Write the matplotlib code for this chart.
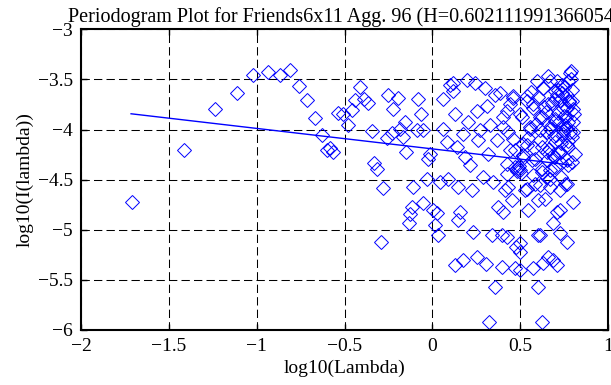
import matplotlib
matplotlib.use("Agg")
import matplotlib.pyplot as plt
import numpy as np

# periodogram points: log10(lambda), log10(I(lambda))
log_lambda = [
    -1.711, -1.414, -1.237, -1.110, -1.019, -0.937, -0.867, -0.810, -0.759, -0.715,
    -0.668, -0.630, -0.602, -0.564, -0.580, -0.536, -0.507, -0.479, -0.460, -0.441,
    -0.412, -0.388, -0.365, -0.346, -0.332, -0.317, -0.283, -0.294, -0.251, -0.222,
    -0.194, -0.260, -0.232, -0.184, -0.156, -0.166, -0.150, -0.128, -0.131, -0.109,
    -0.080, -0.067, -0.089, -0.118, -0.052, -0.052, -0.033, -0.023, -0.014, 0.005,
    0.024, 0.034, 0.015, 0.043, 0.062, 0.062, 0.081, 0.090, 0.100, 0.119,
    0.119, 0.128, 0.138, 0.157, 0.147, 0.147, 0.176, 0.186, 0.195, 0.204,
    0.214, 0.224, 0.233, 0.243, 0.252, 0.261, 0.271, 0.290, 0.299, 0.309,
    0.318, 0.328, 0.337, 0.347, 0.356, 0.366, 0.375, 0.384, 0.394, 0.404,
    0.413, 0.423, 0.432, 0.442, 0.451, 0.461, 0.470, 0.480, 0.485, 0.499,
    0.508, 0.518, 0.527, 0.537, 0.546, 0.555, 0.565, 0.574, 0.584, 0.593,
    0.603, 0.612, 0.622, 0.631, 0.641, 0.650, 0.660, 0.669, 0.679, 0.688,
    0.698, 0.707, 0.717, 0.726, 0.736, 0.745, 0.755, 0.764, 0.774, 0.783,
    0.793, 0.798, 0.793, 0.802, 0.423, 0.128, 0.176, 0.252, 0.305, 0.356,
    0.394, 0.470, 0.479, 0.499, 0.499, 0.574, 0.612, 0.603, 0.631, 0.660,
    0.688, 0.707, 0.726, 0.764, 0.707, 0.324, 0.627, 0.404, 0.603, 0.669,
    0.726, 0.789, 0.774, 0.669, 0.631, 0.717, 0.764, 0.698, 0.793, 0.660,
    0.745, 0.802, 0.461, 0.537, 0.574, 0.423, 0.499, 0.622, 0.698, 0.774,
    0.404, 0.555, 0.669, 0.745, 0.793, 0.461, 0.612, 0.698, 0.537, 0.764,
    0.442, 0.650, 0.726, 0.812, 0.518, 0.584, 0.764, 0.499, 0.505, 0.492,
    0.470, 0.622, 0.698, 0.423, 0.574, 0.669, 0.764, 0.432, 0.537, 0.612,
    0.700, 0.715, 0.740, 0.755, 0.780, 0.690, 0.730, 0.760, 0.785, 0.650,
    0.560, 0.590, 0.635, 0.655, 0.675, 0.705, 0.725, 0.750, 0.770, 0.790,
    0.545, 0.580, 0.615, 0.645, 0.685, 0.710, 0.735, 0.760, 0.780, 0.800,
    0.515, 0.600, 0.665, 0.720, 0.775, 0.735, 0.750, 0.805, 0.625, 0.690,
]
log_power = [
    -4.72, -4.20, -3.80, -3.64, -3.46, -3.43, -3.46, -3.41, -3.57, -3.71,
    -3.88, -4.05, -4.20, -4.22, -4.18, -3.84, -3.85, -3.95, -3.81, -3.71,
    -3.58, -3.70, -3.74, -4.01, -4.33, -4.39, -4.58, -5.12, -3.66, -3.80,
    -3.69, -4.08, -4.03, -3.99, -3.92, -4.07, -4.22, -4.84, -4.93, -4.57,
    -3.70, -3.85, -4.00, -4.77, -4.00, -4.73, -4.49, -4.29, -4.24, -4.80,
    -4.83, -5.05, -4.95, -4.52, -3.70, -3.99, -4.12, -4.49, -3.56, -3.54,
    -3.62, -3.85, -4.17, -4.82, -4.90, -4.57, -4.04, -4.27, -3.51, -3.92,
    -4.35, -4.60, -5.02, -3.54, -3.82, -4.10, -4.00, -4.47, -3.59, -3.77,
    -4.24, -3.95, -5.05, -4.52, -3.66, -4.10, -4.77, -3.64, -5.05, -3.87,
    -4.60, -4.34, -4.02, -3.75, -4.70, -3.67, -4.20, -4.41, -4.38, -5.13,
    -3.87, -4.14, -4.60, -3.67, -4.80, -3.99, -4.30, -3.75, -4.54, -3.52,
    -5.05, -3.87, -4.17, -3.59, -4.69, -4.02, -3.47, -4.40, -3.74, -4.93,
    -3.91, -3.52, -4.22, -4.80, -3.64, -4.00, -4.54, -3.79, -4.17, -3.44,
    -3.61, -4.72, -4.32, -3.92, -5.07, -5.35, -5.30, -5.27, -5.34, -5.57,
    -5.37, -5.38, -5.17, -5.22, -5.40, -5.38, -5.05, -5.57, -5.33, -5.27,
    -5.30, -5.35, -5.03, -5.12, -4.82, -5.92, -5.92, -4.82, -4.70, -4.57,
    -4.60, -3.42, -3.52, -3.52, -3.59, -3.61, -3.66, -3.70, -3.72, -3.75,
    -3.79, -3.80, -3.69, -3.72, -3.79, -3.82, -3.85, -3.87, -3.89, -3.92,
    -3.97, -3.97, -3.99, -4.04, -4.07, -4.09, -4.10, -4.12, -4.15, -4.15,
    -4.20, -4.22, -4.22, -4.24, -4.25, -4.29, -4.30, -4.40, -4.43, -4.36,
    -4.37, -4.39, -4.37, -4.44, -4.45, -4.49, -4.54, -4.57, -4.59, -4.55,
    -3.62, -3.84, -3.56, -3.95, -3.72, -4.27, -4.33, -3.87, -4.02, -4.47,
    -3.63, -3.94, -3.78, -4.30, -3.96, -4.05, -3.71, -3.86, -4.11, -3.50,
    -4.08, -4.18, -4.00, -3.83, -4.25, -3.66, -4.13, -3.98, -3.73, -4.02,
    -4.28, -3.68, -4.19, -3.92, -4.35, -4.47, -3.58, -3.85, -4.42, -4.06,
]

# least squares line drawn over the points
fit_x = [-1.715, 0.793]
fit_slope = -0.2042
fit_intercept = -4.193
hurst = "0.602111991366054"

plt.rcParams['font.family'] = ['Liberation Serif', 'DejaVu Serif']

fig = plt.figure(figsize=(6.11, 3.85), dpi=100)
ax = fig.add_axes([81 / 611, 1 - 330 / 385, 527 / 611, 300.7 / 385])

ax.plot(log_lambda, log_power, linestyle='none', marker='D', markersize=7,
        markerfacecolor='none', markeredgecolor='#0000ff', markeredgewidth=0.7)
line_y = [fit_intercept + fit_slope * v for v in fit_x]
ax.plot(fit_x, line_y, color='#0000ff', linewidth=1.0)

ax.set_xlim(-2, 1)
ax.set_ylim(-6, -3)
ax.set_xticks([-2, -1.5, -1, -0.5, 0, 0.5, 1])
ax.set_yticks([-6, -5.5, -5, -4.5, -4, -3.5, -3])
ax.set_xticklabels(['\u22122', '\u22121.5', '\u22121', '\u22120.5', '0', '0.5', '1'])
ax.set_yticklabels(['\u22126', '\u22125.5', '\u22125', '\u22124.5', '\u22124', '\u22123.5', '\u22123'])
ax.grid(True, color='black', linestyle=(0, (8, 4)), linewidth=0.75)
ax.tick_params(direction='in', length=4, width=1, top=True, right=True,
               labelsize=14, pad=6, colors='black')
for s in ax.spines.values():
    s.set_linewidth(1.5)

ax.set_xlabel('log10(Lambda)', fontsize=14, labelpad=3)
ax.set_ylabel('log10(I(lambda))', fontsize=14, labelpad=3)
ax.set_title(f'Periodogram Plot for Friends6x11 Agg. 96 (H={hurst})', fontsize=14.5, pad=5)

fig.savefig('out.png', dpi=100)
